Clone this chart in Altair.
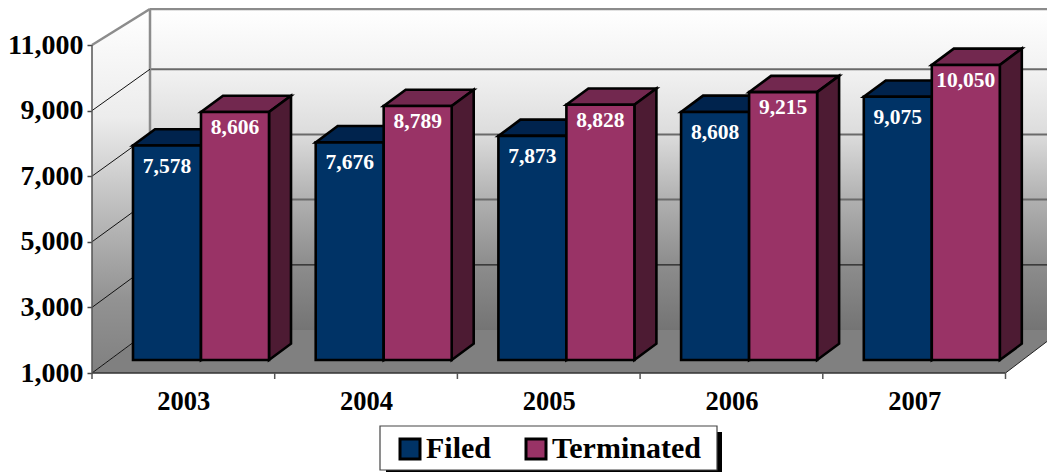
import altair as alt
import pandas as pd

years = ["2003", "2004", "2005", "2006", "2007"]
filed = [7578, 7676, 7873, 8608, 9075]
terminated = [8606, 8789, 8828, 9215, 10050]
ticks = [1000, 3000, 5000, 7000, 9000, 11000]
series = ["Filed", "Terminated"]

SERIF = "Liberation Serif"
CAT = 182.7                # px per category
PX = 0.0328                # px per value unit on the axis
W, H = 955, 365
xdom = [0, W / CAT]
ydom = [1000, 1000 + H / PX]
SHRINK = 0.994
def px_x(p): return p / CAT
def px_y(p): return p / PX

FRONT_UP = px_y(13); DEPTH_UP = px_y(16.3); DEPTH_X = px_x(22)
WALL_X = px_x(58); WALL_UP = px_y(43)
BAR_X0 = px_x(41); BAR_W = px_x(68)
def fv(v): return 1000 + (v - 1000) * SHRINK + FRONT_UP
def wall(v): return min(1000 + (v - 1000) * SHRINK + WALL_UP, ydom[1] - px_y(1))
FLOOR_R = 5.0

label_expr = "[" + ",".join(f"'{y}'" for y in years) + "][floor(datum.value)]"
x_axis = alt.Axis(values=[i + 0.5 for i in range(len(years))], labelExpr=label_expr, tickSize=0, domain=False,
                  grid=False, labelFont=SERIF, labelFontSize=26.5, labelFontWeight="bold", labelColor="black",
                  labelPadding=15, title=None)
y_axis = alt.Axis(values=ticks, format=",d", tickSize=5, tickColor="#444444", tickWidth=1.5, domain=False, grid=False,
                  labelFont=SERIF, labelFontSize=28, labelFontWeight="bold", labelColor="black", labelPadding=4,
                  title=None)

xs = alt.Scale(domain=xdom, nice=False, zero=False)
ys = alt.Scale(domain=ydom, nice=False, zero=False)
X = lambda f: alt.X(f, type="quantitative", scale=xs, axis=x_axis)
Y = lambda f: alt.Y(f, type="quantitative", scale=ys, axis=y_axis, stack=None)

# ---- tables ----
rows = []
for j, (name, vals) in enumerate(zip(series, [filed, terminated])):
    for i, v in enumerate(vals):
        x0 = i + BAR_X0 + j * BAR_W
        rows.append(dict(s=name, i=i, v=v, x0=x0, x1=x0 + BAR_W, xm=x0 + BAR_W / 2,
                         top=fv(v), base=fv(1000)))
bars = pd.DataFrame(rows)

def side_table(d):
    out = []
    for r in d.itertuples():
        out.append(dict(b=r.i, x=r.x1, y=r.top, y2=r.base))
        out.append(dict(b=r.i, x=r.x1 + DEPTH_X, y=r.top + DEPTH_UP, y2=r.base + DEPTH_UP))
    return pd.DataFrame(out)

def top_table(d):
    out = []
    for r in d.itertuples():
        out.append(dict(b=r.i, y=r.top, x=r.x0, x2=r.x1))
        out.append(dict(b=r.i, y=r.top + DEPTH_UP, x=r.x0 + DEPTH_X, x2=r.x1 + DEPTH_X))
    return pd.DataFrame(out)

STROKE = dict(stroke="black", strokeWidth=2.6, strokeJoin="miter")
WHITE_GREY = alt.Gradient(gradient="linear", x1=0, x2=0, y1=0, y2=1,
                          stops=[alt.GradientStop(offset=0, color="#ffffff"),
                                 alt.GradientStop(offset=0.19, color="#f2f2f2"),
                                 alt.GradientStop(offset=0.39, color="#dcdcdc"),
                                 alt.GradientStop(offset=0.595, color="#b0b0b0"),
                                 alt.GradientStop(offset=0.80, color="#8c8c8c"),
                                 alt.GradientStop(offset=1, color="#747474")])
LEFT_GREY = alt.Gradient(gradient="linear", x1=0, x2=0, y1=0, y2=1,
                         stops=[alt.GradientStop(offset=0, color="#ffffff"),
                                alt.GradientStop(offset=0.3, color="#ececec"),
                                alt.GradientStop(offset=0.55, color="#bdbdbd"),
                                alt.GradientStop(offset=0.8, color="#929292"),
                                alt.GradientStop(offset=1, color="#808080")])

# ---- walls ----
back = alt.Chart(pd.DataFrame([dict(x=WALL_X, x2=xdom[1], y=wall(1000), y2=wall(11000))])).mark_rect(
    color=WHITE_GREY).encode(x=X("x"), x2="x2", y=Y("y"), y2="y2")

left = alt.Chart(pd.DataFrame([dict(x=0, y=1000, y2=11000), dict(x=WALL_X, y=wall(1000), y2=wall(11000))])).mark_area(
    color=LEFT_GREY).encode(x=X("x"), y=Y("y"), y2="y2")

floor_right = 1000 + px_y(38) * (xdom[1] - FLOOR_R) / px_x(50)
floor = alt.Chart(pd.DataFrame([
    dict(x=0, y=1000, y2=1000),
    dict(x=WALL_X, y=wall(1000), y2=1000),
    dict(x=FLOOR_R, y=wall(1000), y2=1000),
    dict(x=xdom[1], y=wall(1000), y2=floor_right),
])).mark_area(color="#808080").encode(x=X("x"), y=Y("y"), y2="y2")

grid_df = pd.DataFrame([dict(x=WALL_X, x2=xdom[1], y=wall(t)) for t in ticks if t in (5000, 7000, 9000)])
grid = alt.Chart(grid_df).mark_rule(color="#6a6a6a", strokeWidth=2).encode(x=X("x"), x2="x2", y=Y("y"))
grid_low = alt.Chart(pd.DataFrame([dict(x=WALL_X, x2=xdom[1], y=wall(3000))])).mark_rule(
    color="#222222", strokeWidth=1.2).encode(x=X("x"), x2="x2", y=Y("y"))
top_line = alt.Chart(pd.DataFrame([dict(x=WALL_X, x2=xdom[1], y=wall(11000))])).mark_rule(
    color="#8c8c8c", strokeWidth=2.5).encode(x=X("x"), x2="x2", y=Y("y"))
wall_v = alt.Chart(pd.DataFrame([dict(x=WALL_X, y=wall(1000), y2=wall(11000))])).mark_rule(
    color="#8c8c8c", strokeWidth=2.5).encode(x=X("x"), y=Y("y"), y2="y2")

slant_df = pd.DataFrame([dict(t=t, x=px, y=val) for t in ticks[:-1]
                         for px, val in ((0, t), (WALL_X, wall(t)))])
slants = alt.Chart(slant_df).mark_line(color="#111111", strokeWidth=1).encode(x=X("x"), y=Y("y"), detail="t:N")
top_slant = alt.Chart(pd.DataFrame([dict(x=0, y=11000), dict(x=WALL_X, y=wall(11000))])).mark_line(
    color="#8c8c8c", strokeWidth=2.5).encode(x=X("x"), y=Y("y"))
edge = alt.Chart(pd.DataFrame([dict(x=FLOOR_R, y=1000), dict(x=xdom[1], y=floor_right)])).mark_line(
    color="#222222", strokeWidth=1).encode(x=X("x"), y=Y("y"))

# ---- axis lines ----
base_line = alt.Chart(pd.DataFrame([dict(x=0, x2=FLOOR_R, y=1000)])).mark_rule(color="#333333", strokeWidth=1.5).encode(
    x=X("x"), x2="x2", y=Y("y"))
left_line = alt.Chart(pd.DataFrame([dict(x=0, y=1000, y2=11000)])).mark_rule(color="#555555", strokeWidth=1.5).encode(
    x=X("x"), y=Y("y"), y2="y2")
x_ticks = alt.Chart(pd.DataFrame(dict(x=list(range(len(years) + 1))))).mark_rule(color="#555555", strokeWidth=1.5).encode(
    x=X("x"), y=alt.value(H), y2=alt.value(H + 6))

# ---- bars ----
color = alt.Color("s:N", scale=alt.Scale(domain=series, range=["#003366", "#993366"]),
                  legend=alt.Legend(orient="none", legendX=303, legendY=426, direction="horizontal", columns=2,
                                    title=None, padding=0,
                                    symbolType="square", symbolSize=400, symbolStrokeColor="black", symbolStrokeWidth=3,
                                    labelFont=SERIF, labelFontSize=30, labelFontWeight="bold", labelColor="black",
                                    labelOffset=1, labelLimit=400, columnPadding=29, symbolOpacity=1))

def bar_layers(name, top_col, side_col):
    d = bars[bars.s == name]
    layers = [
        alt.Chart(top_table(d)).mark_area(orient="horizontal", color=top_col, **STROKE).encode(
            y=Y("y"), x=X("x"), x2="x2", detail="b:N"),
        alt.Chart(side_table(d)).mark_area(color=side_col, **STROKE).encode(
            x=X("x"), y=Y("y"), y2="y2", detail="b:N"),
    ]
    front = alt.Chart(d).mark_rect(**STROKE).encode(x=X("x0"), x2="x1", y=Y("base"), y2="top", color=color)
    return layers + [front]

def labels(name, dy):
    return alt.Chart(bars[bars.s == name]).mark_text(
        font=SERIF, fontSize=21.5, fontWeight="bold", color="white", dy=dy, baseline="middle", align="center"
    ).encode(x=X("xm"), y=Y("top"), text=alt.Text("v:Q", format=",d"))

# ---- legend frame and its shadow ----
shadow = alt.Chart(pd.DataFrame([dict(a=1)])).mark_rect(color="black").encode(
    x=alt.value(294), x2=alt.value(630), y=alt.value(424), y2=alt.value(464))
frame = alt.Chart(pd.DataFrame([dict(a=1)])).mark_rect(color="white", stroke="#444444", strokeWidth=1.2).encode(
    x=alt.value(288), x2=alt.value(625), y=alt.value(418), y2=alt.value(462))

chart = alt.layer(
    back, left, floor, grid, grid_low, top_line, wall_v, slants, top_slant, edge, base_line, left_line, x_ticks,
    *bar_layers("Filed", "#00234d", "#00234d"),
    *bar_layers("Terminated", "#72284f", "#4d1b33"),
    labels("Filed", 21), labels("Terminated", 16),
    shadow, frame,
).properties(
    width=W, height=H,
    autosize=alt.AutoSizeParams(type="none"),
    padding={"left": 84, "top": 0, "right": 0, "bottom": 99},
    background="white",
).configure_view(stroke=None)

chart.save("out.html", embed_options={"renderer": "svg", "actions": False})
